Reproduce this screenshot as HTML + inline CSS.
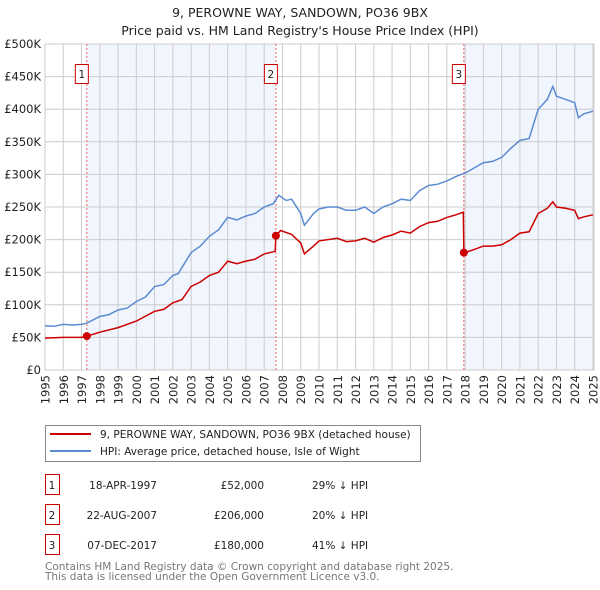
<!DOCTYPE html>
<html><head><meta charset="utf-8">
<style>
body{margin:0;background:#fff;font-family:"DejaVu Sans","Liberation Sans",sans-serif;}
#wrap{position:relative;width:600px;height:590px;overflow:hidden;}
svg text{font-family:"DejaVu Sans","Liberation Sans",sans-serif;}
</style></head>
<body><div id="wrap">
<svg id="chart" width="600" height="590">
<text x="300" y="17" text-anchor="middle" font-size="12.5" fill="#222">9, PEROWNE WAY, SANDOWN, PO36 9BX</text>
<text x="300" y="35" text-anchor="middle" font-size="12.5" fill="#222">Price paid vs. HM Land Registry's House Price Index (HPI)</text>
<g id="plot"></g>
<g>
<rect x="45.5" y="425.5" width="375" height="36" fill="#fff" stroke="#888"/>
<line x1="50" y1="434" x2="91" y2="434" stroke="#cc0000" stroke-width="2"/>
<text x="100" y="438" font-size="10.5" fill="#222">9, PEROWNE WAY, SANDOWN, PO36 9BX (detached house)</text>
<line x1="50" y1="451" x2="91" y2="451" stroke="#5b8bd0" stroke-width="2"/>
<text x="100" y="455" font-size="10.5" fill="#222">HPI: Average price, detached house, Isle of Wight</text>
</g>
<g id="table" font-size="10.5" fill="#222"></g>
<text x="45" y="570" font-size="10.5" fill="#777">Contains HM Land Registry data © Crown copyright and database right 2025.</text>
<text x="45" y="580" font-size="10.5" fill="#777">This data is licensed under the Open Government Licence v3.0.</text>
</svg></div>
<script>
const hpiYears=[1995,1995.5,1996,1996.5,1997,1997.3,1998,1998.5,1999,1999.5,2000,2000.5,2001,2001.5,2002,2002.3,2003,2003.5,2004,2004.5,2005,2005.5,2006,2006.5,2007,2007.5,2007.8,2008.2,2008.5,2009,2009.2,2009.7,2010,2010.5,2011,2011.5,2012,2012.5,2013,2013.5,2014,2014.5,2015,2015.5,2016,2016.5,2017,2017.5,2018,2018.5,2019,2019.5,2020,2020.5,2021,2021.5,2022,2022.5,2022.8,2023,2023.5,2024,2024.2,2024.5,2025];
const hpiValues=[68,67,70,69,70,72,82,85,92,95,105,112,128,131,145,148,180,190,205,215,234,230,236,240,250,255,268,260,262,240,222,240,247,250,250,245,245,250,240,250,255,262,260,275,283,285,290,297,302,310,318,320,326,340,352,355,400,415,435,420,415,410,387,393,397];
const propYears=[1995,1996,1997,1997.3,1998,1999,2000,2001,2001.5,2002,2002.5,2003,2003.5,2004,2004.5,2005,2005.5,2006,2006.5,2007,2007.6,2007.64,2007.9,2008.5,2009,2009.2,2009.7,2010,2011,2011.5,2012,2012.5,2013,2013.5,2014,2014.5,2015,2015.5,2016,2016.5,2017,2017.5,2017.9,2017.93,2018,2018.5,2019,2019.5,2020,2020.5,2021,2021.5,2022,2022.5,2022.8,2023,2023.5,2024,2024.2,2024.5,2025];
const propValues=[49,50,50,52,58,65,75,90,93,103,108,128,135,145,150,167,163,167,170,178,182,206,214,208,195,178,190,198,202,197,198,202,196,203,207,213,210,220,226,228,234,238,242,180,180,185,190,190,192,200,210,212,240,248,258,250,248,245,232,235,238];
const saleLabels=["1","2","3"];
const saleYears=[1997.29,2007.64,2017.93];
const saleValues=[52,206,180];
const saleDates=["18-APR-1997","22-AUG-2007","07-DEC-2017"];
const salePrices=["£52,000","£206,000","£180,000"];
const saleDiffs=["29% ↓ HPI","20% ↓ HPI","41% ↓ HPI"];
const yTicks=[0,50,100,150,200,250,300,350,400,450,500];
const yTickLabels=["£0","£50K","£100K","£150K","£200K","£250K","£300K","£350K","£400K","£450K","£500K"];
const xTicks=[1995,1996,1997,1998,1999,2000,2001,2002,2003,2004,2005,2006,2007,2008,2009,2010,2011,2012,2013,2014,2015,2016,2017,2018,2019,2020,2021,2022,2023,2024,2025];

const L=45,R=593,T=44,B=370;
const x=y=>L+(y-1995)/30*(R-L);
const yv=v=>B-v/500*(B-T);
const NS="http://www.w3.org/2000/svg";
const g=document.getElementById('plot');
function mk(tag,attrs,parent){const e=document.createElementNS(NS,tag);for(const k in attrs)e.setAttribute(k,attrs[k]);(parent||g).appendChild(e);return e;}
// shading
let s=mk('rect',{x:x(saleYears[0]),y:T,width:x(saleYears[1])-x(saleYears[0]),height:B-T,fill:'#eef3fc',opacity:0.8});


s=mk('rect',{x:x(saleYears[2]),y:T,width:R+1-x(saleYears[2]),height:B-T,fill:'#eef3fc',opacity:0.8});


// grid
yTicks.forEach((v,i)=>{
 let l=mk('line',{x1:L,x2:R,y1:yv(v),y2:yv(v),stroke:'#ccc','stroke-width':1});
 
 
 let t=mk('text',{x:L-4,y:yv(v)+4,'text-anchor':'end','font-size':11.5,fill:'#222'});
 t.textContent=yTickLabels[i];
 
 
});
xTicks.forEach(yr=>{
 let l=mk('line',{x1:x(yr),x2:x(yr),y1:T,y2:B,stroke:'#ccc','stroke-width':1});
 
 
 let t=mk('text',{x:0,y:0,'text-anchor':'end','font-size':11.5,fill:'#222',transform:`translate(${x(yr)+4.5},375) rotate(-90)`});
 t.textContent=yr;
 
 
});
let fr=mk('rect',{x:L,y:T,width:R+1-L,height:B-T,fill:'none',stroke:'#ccc'});


// sale vlines & labels
saleYears.forEach((yr,i)=>{
 let l=mk('line',{x1:x(yr),x2:x(yr),y1:T,y2:B,stroke:'#f06060','stroke-width':1,'stroke-dasharray':'2,2'});
 
 
 let b=mk('rect',{x:x(yr)-11.5,y:64.5,width:13,height:19,fill:'#fff',stroke:'#cc0000'});
 
 
 let t=mk('text',{x:x(yr)-5,y:78,'text-anchor':'middle','font-size':10.5,fill:'#222'});
 t.textContent=saleLabels[i];
 
 
});
function path(xs,vs){return xs.map((yr,i)=>(i?'L':'M')+x(yr).toFixed(1)+','+yv(vs[i]).toFixed(1)).join('');}
let hp=mk('path',{d:path(hpiYears,hpiValues),fill:'none',stroke:'#5b8bd0','stroke-width':1.5});


let pp=mk('path',{d:path(propYears,propValues),fill:'none',stroke:'#cc0000','stroke-width':1.5});


saleYears.forEach((yr,i)=>{
 let c=mk('circle',{cx:x(yr),cy:yv(saleValues[i]),r:4,fill:'#cc0000'});
 
 
});
// table
const tb=document.getElementById('table');
saleLabels.forEach((lab,i)=>{
 const yy=483+i*30;
 let b=mk('rect',{x:45.5,y:yy-8.5,width:14,height:20,fill:'#fff',stroke:'#cc0000'},tb);
 
 
 const cells=[[52,'middle',lab],[157,'end',saleDates[i]],[264,'end',salePrices[i]],[312,'start',saleDiffs[i]]];
 cells.forEach(c=>{
  let t=mk('text',{x:c[0],y:yy+6,'text-anchor':c[1]},tb);
  t.textContent=c[2];
  
  
 });
});
</script>
</body></html>
